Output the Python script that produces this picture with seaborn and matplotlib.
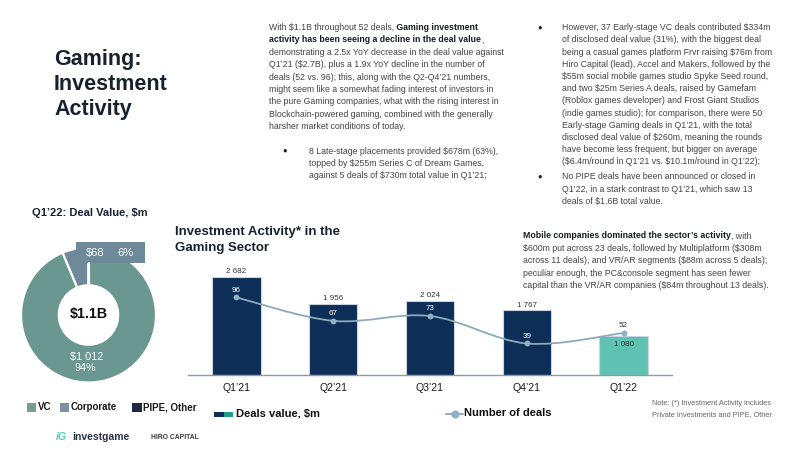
import numpy as np
import pandas as pd
import matplotlib
matplotlib.use("Agg")
import matplotlib.pyplot as plt
from matplotlib.path import Path
from matplotlib.patches import PathPatch, Rectangle
from matplotlib.lines import Line2D
import seaborn as sns

# ---------------- data ----------------
quarters = ["Q1’21", "Q2’21", "Q3’21", "Q4’21", "Q1’22"]
deal_values = [2682, 1956, 2024, 1767, 1080]
deal_counts = [96, 67, 73, 39, 52]

pie_labels = ["VC", "Corporate", "PIPE, Other"]
pie_values = [1012, 68, 0]
pie_pcts = ["94%", "6%", "0%"]
pie_total = "$1.1B"

# ---------------- style ----------------
sns.set_style("white")
plt.rcParams["font.family"] = ["Liberation Sans", "DejaVu Sans"]

W, H = 800, 450
NAVY = "#0D2F57"
TEAL = "#5EC1B1"
LINE_C = "#8BAABB"
VC_C = "#6A978F"
CORP_C = "#6E8A9A"
PIPE_C = "#1F2940"
BODY = "#444444"
DARK = "#151c26"
TITLE = "#18222f"
AXC = "#8c9bab"

fig = plt.figure(figsize=(8, 4.5), dpi=100)
fig.patch.set_facecolor("white")

# ---------------- bar + line chart ----------------
ax = fig.add_axes([188 / W, 1 - 375 / H, (672 - 188) / W, (375 - 260) / H])
df = pd.DataFrame({"quarter": quarters, "value": deal_values, "deals": deal_counts})
bar_colors = [NAVY] * (len(quarters) - 1) + [TEAL]
sns.barplot(data=df, x="quarter", y="value", hue="quarter", order=quarters,
            hue_order=quarters, palette=bar_colors, legend=False, width=0.5,
            edgecolor="#c9d4de", linewidth=0.8, saturation=1, ax=ax)
ax.set_xlim(-0.5, len(quarters) - 0.5)
ax.set_ylim(0, 3150)
ax.set_xlabel("")
ax.set_ylabel("")
ax.set_yticks([])
for s in ["top", "left", "right"]:
    ax.spines[s].set_visible(False)
ax.spines["bottom"].set_color(AXC)
ax.spines["bottom"].set_linewidth(1.0)
ax.set_xticks(range(len(quarters)))
ax.set_xticklabels(quarters, fontsize=7.6, color="#1a1a1a")
ax.tick_params(axis="x", which="major", length=0, pad=6)
ax.set_xticks(np.arange(-0.5, len(quarters), 1.0), minor=True)
ax.tick_params(axis="x", which="minor", length=3.5, width=0.8, color=AXC, direction="out")
ax.patch.set_alpha(0)

for i, v in enumerate(deal_values):
    lab = f"{v:,}".replace(",", " ")
    if i < len(deal_values) - 1:
        ax.annotate(lab, (i, v), xytext=(0, 3.8), textcoords="offset points",
                    ha="center", va="center", fontsize=5.8, color="#333333")
    else:
        ax.annotate(lab, (i, v), xytext=(0, -6.2), textcoords="offset points",
                    ha="center", va="center", fontsize=5.8, color="#333333")

ax2 = ax.twinx()
ax2.set_ylim(0, 142.3)
ax2.set_yticks([])
for s in ["top", "left", "right", "bottom"]:
    ax2.spines[s].set_visible(False)
ax2.patch.set_alpha(0)

# smooth line through the data (Catmull-Rom Bezier)
pts = np.column_stack([np.arange(len(deal_counts)), np.array(deal_counts, float)])
verts = [tuple(pts[0])]
codes = [Path.MOVETO]
n = len(pts)
for i in range(n - 1):
    p0 = pts[i - 1] if i > 0 else pts[i]
    p1 = pts[i]
    p2 = pts[i + 1]
    p3 = pts[i + 2] if i + 2 < n else pts[i + 1]
    c1 = p1 + (p2 - p0) / 6.0
    c2 = p2 - (p3 - p1) / 6.0
    verts += [tuple(c1), tuple(c2), tuple(p2)]
    codes += [Path.CURVE4] * 3
ax2.add_patch(PathPatch(Path(verts, codes), facecolor="none", edgecolor=LINE_C, lw=1.3, zorder=3))
sns.scatterplot(x=np.arange(len(deal_counts)), y=deal_counts, ax=ax2, color="#8FB0C2",
                s=18, edgecolor="#8FB0C2", linewidth=0, zorder=4, legend=False)
ax2.set_xlim(-0.5, len(quarters) - 0.5)
for i, d in enumerate(deal_counts):
    col = "white" if i < len(deal_counts) - 1 else "#333333"
    ax2.annotate(str(d), (i, d), xytext=(0, 5.2), textcoords="offset points",
                 ha="center", va="center", fontsize=5.8, color=col)

# ---------------- donut ----------------
R = 67.5
cx, cy = 88.5, 315
half = 70
axp = fig.add_axes([(cx - half) / W, 1 - (cy + half) / H, 2 * half / W, 2 * half / H])
order = [1, 0, 2]  # Corporate first from 12 o'clock, then VC
vals = [pie_values[k] for k in order if pie_values[k] > 0]
cols = [[VC_C, CORP_C, PIPE_C][k] for k in order if pie_values[k] > 0]
axp.pie(vals, colors=cols, startangle=90, counterclock=True, radius=1,
        wedgeprops=dict(width=0.56, edgecolor="white", linewidth=1.6))
lim = half / R
axp.set_xlim(-lim, lim)
axp.set_ylim(-lim, lim)
axp.set_aspect("equal")
axp.axis("off")

# ---------------- overlay (pixel coords) ----------------
ov = fig.add_axes([0, 0, 1, 1], zorder=10)
ov.set_xlim(0, W)
ov.set_ylim(H, 0)
ov.axis("off")
ov.patch.set_alpha(0)
renderer = fig.canvas.get_renderer()


def txt(x, y, s, **kw):
    kw.setdefault("ha", "left")
    kw.setdefault("va", "center")
    return ov.text(x, y, s, parse_math=False, **kw)


def rich(x, y, parts, size, normal_color=BODY, bold_color=DARK):
    cur = x
    for s, b in parts:
        t = txt(cur, y, s, fontsize=size, fontweight="bold" if b else "normal",
                color=bold_color if b else normal_color)
        bb = t.get_window_extent(renderer)
        cur += bb.width
    return cur


# main title
for i, line in enumerate(["Gaming:", "Investment", "Activity"]):
    txt(54, 65 + i * 25, line, fontsize=15.5, fontweight="bold", color=TITLE, va="baseline")

# paragraph 1
FS = 6.3
LS = 12.4
p1 = [
    [("With $1.1B throughout 52 deals,", False), (" Gaming investment", True)],
    [("activity has been seeing a decline in the deal value", True), (",", False)],
    [("demonstrating a 2.5x YoY decrease in the deal value against", False)],
    [("Q1’21 ($2.7B), plus a 1.9x YoY decline in the number of", False)],
    [("deals (52 vs. 96); this, along with the Q2-Q4’21 numbers,", False)],
    [("might seem like a somewhat fading interest of investors in", False)],
    [("the pure Gaming companies, what with the rising interest in", False)],
    [("Blockchain-powered gaming, combined with the generally", False)],
    [("harsher market conditions of today.", False)],
]
for i, parts in enumerate(p1):
    rich(269, 27.5 + i * LS, parts, FS)

BUL = 5.5
b1 = ["8 Late-stage placements provided $678m (63%),",
      "topped by $255m Series C of Dream Games,",
      "against 5 deals of $730m total value in Q1’21;"]
txt(285, 151, "●", fontsize=BUL, color="#222222", ha="center")
for i, line in enumerate(b1):
    txt(309, 151 + i * LS, line, fontsize=FS, color=BODY)

b2 = ["However, 37 Early-stage VC deals contributed $334m",
      "of disclosed deal value (31%), with the biggest deal",
      "being a casual games platform Frvr raising $76m from",
      "Hiro Capital (lead), Accel and Makers, followed by the",
      "$55m social mobile games studio Spyke Seed round,",
      "and two $25m Series A deals, raised by Gamefam",
      "(Roblox games developer) and Frost Giant Studios",
      "(indie games studio); for comparison, there were 50",
      "Early-stage Gaming deals in Q1’21, with the total",
      "disclosed deal value of $260m, meaning the rounds",
      "have become less frequent, but bigger on average",
      "($6.4m/round in Q1’21 vs. $10.1m/round in Q1’22);"]
txt(540, 27.7, "●", fontsize=BUL, color="#222222", ha="center")
for i, line in enumerate(b2):
    txt(562, 27.7 + i * 12.2, line, fontsize=FS, color=BODY)

b3 = ["No PIPE deals have been announced or closed in",
      "Q1’22, in a stark contrast to Q1’21, which saw 13",
      "deals of $1.6B total value."]
txt(540, 176.7, "●", fontsize=BUL, color="#222222", ha="center")
for i, line in enumerate(b3):
    txt(562, 176.7 + i * 12.3, line, fontsize=FS, color=BODY)

p4 = [
    [("Mobile companies dominated the sector’s activity", True), (", with", False)],
    [("$600m put across 23 deals, followed by Multiplatform ($308m", False)],
    [("across 11 deals), and VR/AR segments ($88m across 5 deals);", False)],
    [("peculiar enough, the PC&console segment has seen fewer", False)],
    [("capital than the VR/AR companies ($84m throughout 13 deals).", False)],
]
for i, parts in enumerate(p4):
    rich(523, 236 + i * 12.4, parts, FS)

# note
txt(652, 403.3, "Note: (*) Investment Activity includes", fontsize=5.3, color="#666666")
txt(652, 414.7, "Private Investments and PIPE, Other", fontsize=5.3, color="#666666")

# chart title
txt(175, 232.5, "Investment Activity* in the", fontsize=9.5, fontweight="bold", color=TITLE)
txt(175, 248, "Gaming Sector", fontsize=9.5, fontweight="bold", color=TITLE)

# pie title and labels
txt(32, 213, "Q1’22: Deal Value, $m", fontsize=8, fontweight="bold", color=TITLE)
txt(89, 314, pie_total, fontsize=10.3, fontweight="bold", color="#111111", ha="center")
ov.add_patch(Rectangle((76, 242), 69, 21, facecolor=CORP_C, edgecolor="none"))
ov.plot([cx, cx], [263, 285], color="white", lw=1.6)
txt(95.5, 252.7, f"${pie_values[1]}", fontsize=8, color="white", ha="center")
txt(125, 252.7, pie_pcts[1], fontsize=8, color="white", ha="center")
txt(86.7, 356.7, "$" + f"{pie_values[0]:,}".replace(",", " "), fontsize=7.8,
    color="white", ha="center")
txt(85, 368.3, pie_pcts[0], fontsize=7.8, color="white", ha="center")

# pie legend
leg_x = [26.7, 60, 132.3]
leg_cols = ["#7A9C95", "#8090A0", PIPE_C]
for xx, lab, c in zip(leg_x, pie_labels, leg_cols):
    ov.add_patch(Rectangle((xx, 402.7), 9.3, 9.3, facecolor=c, edgecolor="none"))
    txt(xx + 10.8, 407.5, lab, fontsize=7, fontweight="bold", color="#1a1a1a")

# bar chart legend
ov.add_patch(Rectangle((214, 411.5), 9.5, 5.2, facecolor=NAVY, edgecolor="none"))
ov.add_patch(Rectangle((223.5, 411.5), 9.5, 5.2, facecolor="#1E9C8C", edgecolor="none"))
txt(236, 414, "Deals value, $m", fontsize=8, fontweight="bold", color="#111111")
ov.add_line(Line2D([446, 463], [413.5, 413.5], color=LINE_C, lw=1.4))
ov.plot([454.5], [413.5], marker="o", ms=4.8, color="#8FB0C2", mec="#8FB0C2")
txt(464.5, 413.5, "Number of deals", fontsize=8, fontweight="bold", color="#111111")

# logos
txt(56, 437, "iG", fontsize=7.5, fontweight="bold", style="italic", color="#4DD0B5")
txt(72, 437, "investgame", fontsize=7.5, fontweight="bold", color="#2A3440")
txt(151, 437.5, "HIRO CAPITAL", fontsize=4.9, fontweight="bold", color="#3a3a3a")

fig.savefig("out.png", dpi=100)
